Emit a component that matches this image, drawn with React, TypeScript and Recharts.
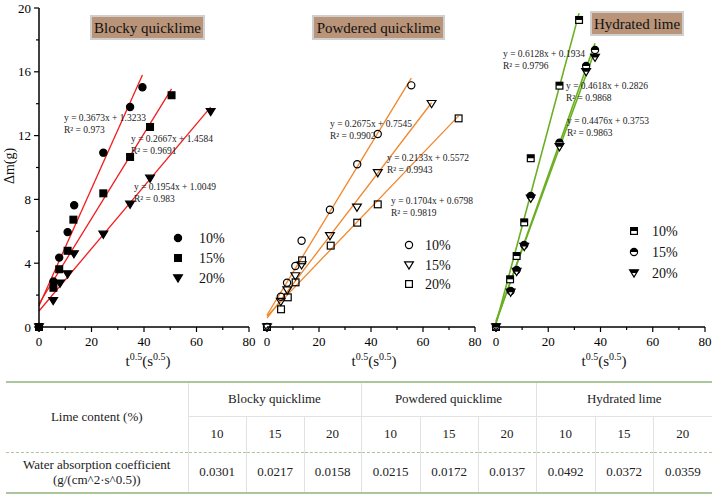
import React from "react";
import { ScatterChart, Scatter, XAxis, YAxis, ReferenceLine } from "recharts";

const FONT = '"Liberation Serif", "Times New Roman", Times, serif';

// mass gain Δm (g) against t^0.5 (s^0.5), one list per lime content
const blocky10: [number, number][] = [[0, 0], [5.5, 2.85], [7.7, 4.35], [10.9, 5.95], [13.4, 7.63], [24.5, 10.93], [34.7, 13.79], [39.4, 15.03]];
const blocky15: [number, number][] = [[0, 0], [5.5, 2.46], [7.7, 3.62], [10.9, 4.78], [13.1, 6.73], [24.5, 8.38], [34.7, 10.66], [42.3, 12.54], [50.5, 14.53]];
const blocky20: [number, number][] = [[0, 0], [5.4, 1.65], [8.0, 2.74], [10.9, 3.32], [13.3, 4.58], [24.5, 5.81], [34.7, 7.69], [42.3, 9.32], [65.4, 13.5]];

const powder10: [number, number][] = [[0, 0], [5.3, 1.9], [7.7, 2.78], [10.9, 3.82], [13.3, 5.41], [24.2, 7.35], [34.7, 10.2], [42.6, 12.1], [55.5, 15.15]];
const powder15: [number, number][] = [[0, 0], [5.3, 1.59], [7.8, 2.32], [10.9, 3.2], [13.3, 3.89], [24.2, 5.72], [34.6, 7.5], [42.6, 9.67], [63.3, 14.0]];
const powder20: [number, number][] = [[0, 0], [5.4, 1.11], [8.0, 1.86], [11.0, 2.8], [13.5, 4.18], [24.5, 5.1], [34.7, 6.54], [42.6, 7.69], [73.7, 13.08]];

const hydrated10: [number, number][] = [[0, 0], [5.4, 2.99], [7.9, 4.45], [10.8, 6.56], [13.3, 10.58], [24.3, 15.13], [31.8, 19.25]];
const hydrated15: [number, number][] = [[0, 0], [5.6, 2.26], [7.9, 3.57], [10.8, 5.14], [13.3, 8.21], [24.3, 11.56], [34.5, 16.36], [37.9, 17.37]];
const hydrated20: [number, number][] = [[0, 0], [5.6, 2.18], [7.9, 3.47], [10.8, 5.04], [13.3, 8.07], [24.3, 11.3], [34.5, 16.0], [37.9, 16.9]];

// linear fits y = a·x + b
const blockySlope = [0.3673, 0.2667, 0.1954];
const blockyIntercept = [1.3233, 1.4584, 1.0049];
const blockyR2 = ["0.973", "0.9691", "0.983"];
const powderSlope = [0.2675, 0.2133, 0.1704];
const powderIntercept = [0.7545, 0.5572, 0.6798];
const powderR2 = ["0.9902", "0.9943", "0.9819"];
const hydratedSlope = [0.6128, 0.4618, 0.4476];
const hydratedIntercept = [0.1934, 0.2826, 0.3753];
const hydratedR2 = ["0.9796", "0.9868", "0.9863"];

const contentLabels = ["10%", "15%", "20%"];
const xTicks = [0, 10, 20, 30, 40, 50, 60, 70, 80];
const yTicks = [0, 2, 4, 6, 8, 10, 12, 14, 16, 18, 20];

// table
const limeTypes = ["Blocky quicklime", "Powdered quicklime", "Hydrated lime"];
const limeContents = ["10", "15", "20"];
const absorption = ["0.0301", "0.0217", "0.0158", "0.0215", "0.0172", "0.0137", "0.0492", "0.0372", "0.0359"];

type Kind = "circle" | "square" | "down";
type Fill = "solid" | "hollow" | "half";

function Marker({ cx, cy, kind, fill }: { cx: number; cy: number; kind: Kind; fill: Fill }) {
  const s = kind === "circle" ? 3.6 : kind === "square" ? 3.4 : 4;
  const stroke = "#000";
  const base = fill === "solid" ? "#000" : fill === "half" ? "#fff" : "none";
  let outline: React.ReactNode;
  let top: React.ReactNode = null;
  if (kind === "circle") {
    outline = <circle cx={cx} cy={cy} r={s} fill={base} stroke={stroke} strokeWidth={1.2} />;
    if (fill === "half") top = <path d={`M${cx - s},${cy} A${s},${s} 0 0 1 ${cx + s},${cy} Z`} fill="#000" />;
  } else if (kind === "square") {
    outline = <rect x={cx - s} y={cy - s} width={2 * s} height={2 * s} fill={base} stroke={stroke} strokeWidth={1.2} />;
    if (fill === "half") top = <rect x={cx - s} y={cy - s} width={2 * s} height={s} fill="#000" />;
  } else {
    const w = s * 1.1;
    const t = cy - s * 0.8;
    const b = cy + s;
    outline = <polygon points={`${cx - w},${t} ${cx + w},${t} ${cx},${b}`} fill={base} stroke={stroke} strokeWidth={1.2} strokeLinejoin="miter" />;
    if (fill === "half") {
      const hw = w * ((b - cy) / (b - t));
      top = <polygon points={`${cx - w},${t} ${cx + w},${t} ${cx + hw},${cy} ${cx - hw},${cy}`} fill="#000" />;
    }
  }
  return (
    <g>
      {outline}
      {top}
    </g>
  );
}

type Series = { name: string; pts: [number, number][]; slope: number; intercept: number; r2: string; kind: Kind };

const makeSeries = (pts: [number, number][][], kinds: Kind[], slope: number[], intercept: number[], r2: string[]): Series[] =>
  pts.map((p, i) => ({ name: contentLabels[i], pts: p, slope: slope[i], intercept: intercept[i], r2: r2[i], kind: kinds[i] }));

const blockySeries = makeSeries([blocky10, blocky15, blocky20], ["circle", "square", "down"], blockySlope, blockyIntercept, blockyR2);
const powderSeries = makeSeries([powder10, powder15, powder20], ["circle", "down", "square"], powderSlope, powderIntercept, powderR2);
const hydratedSeries = makeSeries([hydrated10, hydrated15, hydrated20], ["square", "circle", "down"], hydratedSlope, hydratedIntercept, hydratedR2);

const XTick = (p: any) => {
  const v = p.payload.value;
  const major = v % 20 === 0;
  const axisY = p.y - 8;
  return (
    <g>
      <line x1={p.x} x2={p.x} y1={axisY} y2={axisY + (major ? 5 : 3)} stroke="#000" strokeWidth={1.2} />
      {major && (
        <text x={p.x} y={p.y} dy="0.82em" textAnchor="middle" fontSize={13} fontFamily={FONT} fill="#000">
          {v}
        </text>
      )}
    </g>
  );
};

const YTick = (p: any) => {
  const v = p.payload.value;
  const major = v % 4 === 0;
  const axisX = p.x + 8;
  return (
    <g>
      <line x1={axisX - (major ? 5 : 3)} x2={axisX} y1={p.y} y2={p.y} stroke="#000" strokeWidth={1.2} />
      {major && (
        <text x={p.x} y={p.y} dy="0.35em" textAnchor="end" fontSize={13} fontFamily={FONT} fill="#000">
          {v}
        </text>
      )}
    </g>
  );
};

type PanelProps = {
  series: Series[];
  fill: Fill;
  color: string;
  lineWidth: number;
  showY: boolean;
  left: number;
  width: number;
  mLeft: number;
  mRight: number;
};

function Panel({ series, fill, color, lineWidth, showY, left, width, mLeft, mRight }: PanelProps) {
  return (
    <div style={{ position: "absolute", left, top: 0 }}>
      <ScatterChart width={width} height={372} margin={{ top: 8, right: mRight, bottom: 0, left: mLeft }}>
        <XAxis
          type="number"
          dataKey="x"
          domain={[0, 80]}
          ticks={xTicks}
          interval={0}
          tickSize={5}
          tickMargin={3}
          tickLine={false}
          tick={(p: any) => <XTick {...p} />}
          axisLine={{ stroke: "#000", strokeWidth: 1.5 }}
          height={45}
        />
        <YAxis
          type="number"
          dataKey="y"
          domain={[0, 20]}
          ticks={yTicks}
          interval={0}
          hide={!showY}
          width={39}
          tickSize={5}
          tickMargin={3}
          tickLine={false}
          tick={(p: any) => <YTick {...p} />}
          axisLine={{ stroke: "#000", strokeWidth: 1.5 }}
        />
        {series.map((s) => {
          const xm = Math.max(...s.pts.map((q) => q[0]));
          return (
            <ReferenceLine
              key={"fit" + s.name}
              segment={[
                { x: 0, y: s.intercept },
                { x: xm, y: s.slope * xm + s.intercept },
              ]}
              stroke={color}
              strokeWidth={lineWidth}
              ifOverflow="visible"
            />
          );
        })}
        {series.map((s) => (
          <Scatter
            key={s.name}
            name={s.name}
            data={s.pts.map(([x, y]) => ({ x, y }))}
            isAnimationActive={false}
            shape={(p: any) => <Marker cx={p.cx} cy={p.cy} kind={s.kind} fill={fill} />}
          />
        ))}
      </ScatterChart>
    </div>
  );
}

// annotation placement in page pixels
const titleBoxes = [
  { text: limeTypes[0], x: 91, y: 16, w: 113 },
  { text: limeTypes[1], x: 313, y: 16, w: 131 },
  { text: limeTypes[2], x: 591, y: 12, w: 92 },
];
const eqPlaces = [
  [[64, 118], [131, 139], [134, 187]],
  [[330, 124], [387, 158], [391, 201]],
  [[503, 54], [566, 86], [567, 121]],
];
const legendPlaces = [
  { mx: 178, tx: 199, ys: [238, 258, 278] },
  { mx: 409, tx: 425, ys: [245, 265, 284] },
  { mx: 634, tx: 652, ys: [231, 252, 273] },
];
const xLabelCenters = [148, 374, 604];

const panels = [
  { series: blockySeries, fill: "solid" as Fill },
  { series: powderSeries, fill: "hollow" as Fill },
  { series: hydratedSeries, fill: "half" as Fill },
];

function Overlay() {
  return (
    <svg width={714} height={380} style={{ position: "absolute", left: 0, top: 0, pointerEvents: "none" }} fontFamily={FONT}>
      {titleBoxes.map((b) => (
        <g key={b.text}>
          <rect x={b.x} y={b.y} width={b.w} height={23} fill="#b99479" stroke="#cfcfcf" strokeWidth={2} />
          <text x={b.x + b.w / 2} y={b.y + 12} dy="0.35em" textAnchor="middle" fontSize={15} fill="#111">
            {b.text}
          </text>
        </g>
      ))}
      {panels.map((pn, i) =>
        pn.series.map((s, j) => {
          const [x, y] = eqPlaces[i][j];
          return (
            <g key={`eq${i}${j}`} fontSize={9.5} fill="#222">
              <text x={x} y={y} dy="0.35em">{`y = ${s.slope}x + ${s.intercept}`}</text>
              <text x={x} y={y + 11.5} dy="0.35em">{`R² = ${s.r2}`}</text>
            </g>
          );
        })
      )}
      {panels.map((pn, i) =>
        pn.series.map((s, j) => {
          const lp = legendPlaces[i];
          return (
            <g key={`lg${i}${j}`}>
              <Marker cx={lp.mx} cy={lp.ys[j]} kind={s.kind} fill={pn.fill} />
              <text x={lp.tx} y={lp.ys[j]} dy="0.35em" fontSize={14} fill="#111">
                {s.name}
              </text>
            </g>
          );
        })
      )}
      {xLabelCenters.map((cx) => (
        <text key={cx} x={cx} y={366} textAnchor="middle" fontSize={15} fill="#111">
          t
          <tspan dy={-6} fontSize={10}>0.5</tspan>
          <tspan dy={6}>(s</tspan>
          <tspan dy={-6} fontSize={10}>0.5</tspan>
          <tspan dy={6}>)</tspan>
        </text>
      ))}
      <text x={9} y={166} dy="0.35em" textAnchor="middle" fontSize={14} fill="#111" transform="rotate(-90 9 166)">
        Δm(g)
      </text>
    </svg>
  );
}

const green = "#a9c79a";
const grey = "1px solid #e2e2e2";
const cell: React.CSSProperties = { padding: 0, textAlign: "center", verticalAlign: "middle" };

function Table() {
  const colW = [182, 58, 58, 57, 59, 58, 58, 59, 58, 59];
  return (
    <table
      style={{
        position: "absolute",
        left: 6,
        top: 381,
        width: 706,
        borderCollapse: "collapse",
        tableLayout: "fixed",
        fontFamily: FONT,
        fontSize: 13,
        color: "#222",
      }}
    >
      <colgroup>
        {colW.map((w, i) => (
          <col key={i} style={{ width: w }} />
        ))}
      </colgroup>
      <tbody>
        <tr style={{ height: 34 }}>
          <td rowSpan={2} style={{ ...cell, borderTop: `2px solid ${green}`, borderRight: grey }}>
            Lime content (%)
          </td>
          {limeTypes.map((t, i) => (
            <td
              key={t}
              colSpan={3}
              style={{ ...cell, borderTop: `2px solid ${green}`, borderBottom: grey, borderRight: i < 2 ? grey : "none" }}
            >
              {t}
            </td>
          ))}
        </tr>
        <tr style={{ height: 36 }}>
          {limeTypes.flatMap((t, i) =>
            limeContents.map((c, j) => (
              <td key={t + c} style={{ ...cell, borderRight: i * 3 + j < 8 ? grey : "none" }}>
                {c}
              </td>
            ))
          )}
        </tr>
        <tr style={{ height: 41 }}>
          <td style={{ ...cell, lineHeight: "15px", borderTop: `1px dashed ${green}`, borderBottom: `2px solid ${green}`, borderRight: grey }}>
            Water absorption coefficient
            <br />
            (g/(cm^2·s^0.5))
          </td>
          {absorption.map((v, i) => (
            <td
              key={i}
              style={{ ...cell, borderTop: `1px dashed ${green}`, borderBottom: `2px solid ${green}`, borderRight: i < 8 ? grey : "none" }}
            >
              {v}
            </td>
          ))}
        </tr>
      </tbody>
    </table>
  );
}

export default function App() {
  return (
    <div style={{ position: "absolute", left: 0, top: 0, width: 714, height: 496, background: "#fff", overflow: "hidden" }}>
      <Panel series={blockySeries} fill="solid" color="#f21c1c" lineWidth={1.3} showY left={0} width={260} mLeft={0} mRight={11} />
      <Panel series={powderSeries} fill="hollow" color="#f2862a" lineWidth={1.3} showY={false} left={252} width={235} mLeft={15} mRight={12} />
      <Panel series={hydratedSeries} fill="half" color="#6aaf22" lineWidth={1.6} showY={false} left={484} width={230} mLeft={12} mRight={9} />
      <Overlay />
      <Table />
    </div>
  );
}
